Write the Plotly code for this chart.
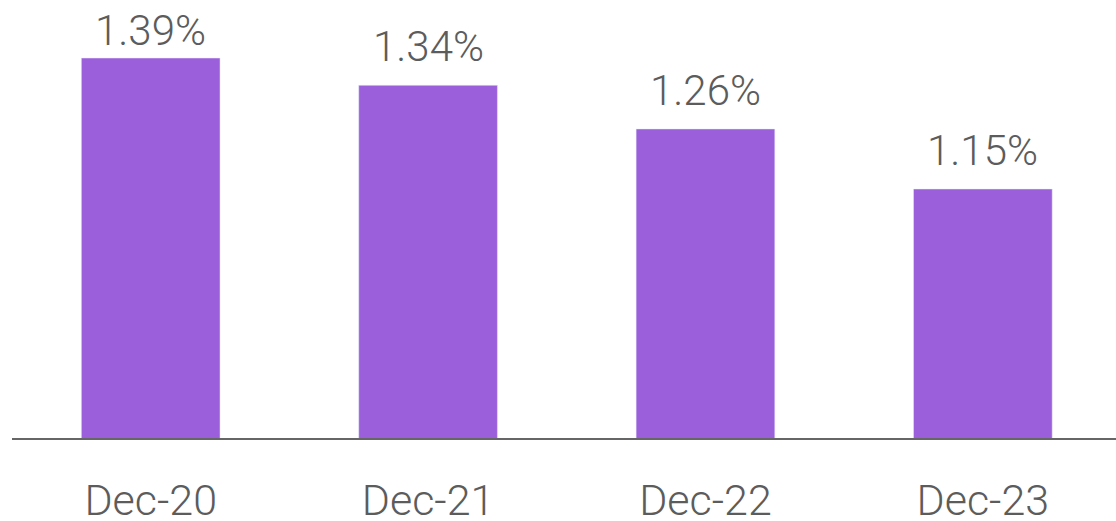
import plotly.graph_objects as go

categories = ["Dec-20", "Dec-21", "Dec-22", "Dec-23"]
values = [1.39, 1.34, 1.26, 1.15]
labels = ["1.39%", "1.34%", "1.26%", "1.15%"]
label_shift = [1, 12, 12, 12]

BAR = "#9b5fdb"
GRAY = "#5c5c5c"
FONT = "Roboto"

fig = go.Figure(go.Bar(
    x=categories, y=values, marker_color=BAR, width=0.5, hoverinfo="skip",
))

for c, v, t, s in zip(categories, values, labels, label_shift):
    fig.add_annotation(
        x=c, y=v, text=t, showarrow=False, yanchor="bottom", yshift=s,
        font=dict(family=FONT, size=42, color=GRAY, weight=300),
    )

fig.update_layout(
    width=1116, height=521,
    margin=dict(l=12, r=0, t=0, b=83),
    paper_bgcolor="white", plot_bgcolor="white",
    showlegend=False,
    xaxis=dict(
        range=[-0.5, 3.48], showline=True, linecolor="#666666", linewidth=2,
        showgrid=False, ticks="", ticklabelstandoff=23, automargin=False,
        tickfont=dict(family=FONT, size=43, color=GRAY, weight=300),
    ),
    yaxis=dict(range=[0.6938, 1.4963], visible=False, showgrid=False,
               zeroline=False, automargin=False),
)

fig.write_html(
    "out.html",
    config={"displayModeBar": False},
    post_script="document.body.style.margin='0';document.body.style.overflow='hidden';",
)
